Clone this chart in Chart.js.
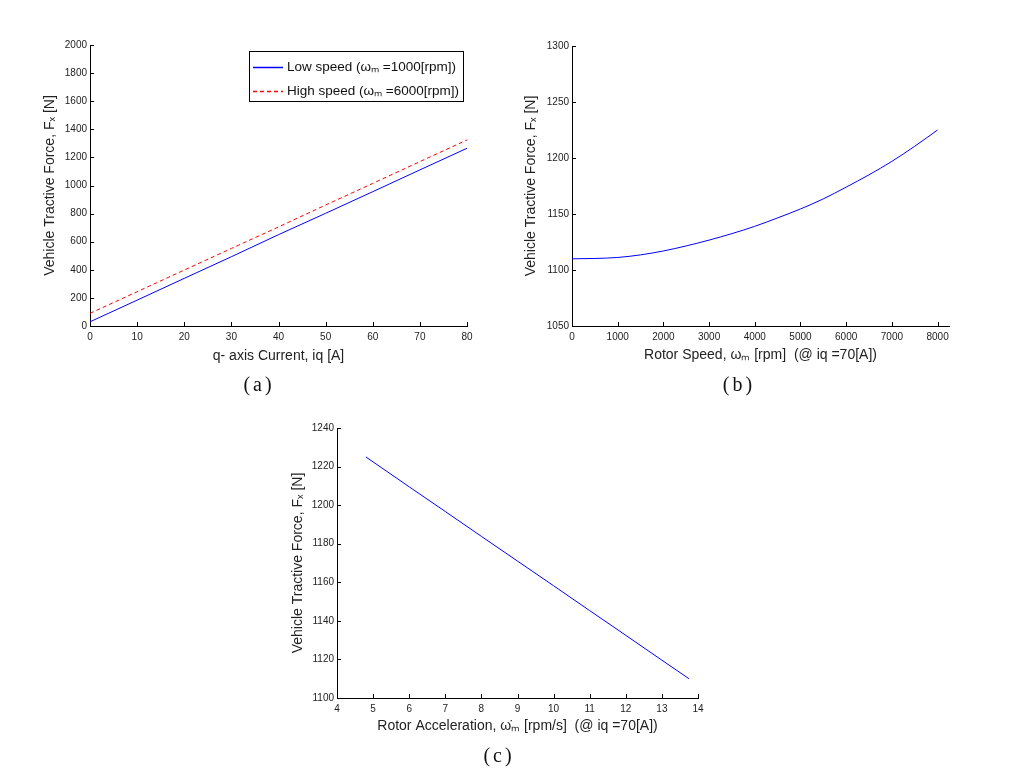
<!DOCTYPE html>
<html>
<head>
<meta charset="utf-8">
<script src="https://cdn.jsdelivr.net/npm/chart.js@4.4.1/dist/chart.umd.min.js"></script>
<style>
  body { margin: 0; background: #fff; }
  #page { position: relative; width: 1010px; height: 779px; overflow: hidden; }
  canvas { position: absolute; }
  .cap { position: absolute; font-family: "Liberation Serif", serif; font-size: 20px; letter-spacing: 3px;
         transform: translate(-50%, -50%); color: #111; }
</style>
</head>
<body>
<div id="page">
  <canvas id="chartA" width="490" height="380" style="left:0;top:0"></canvas>
  <canvas id="chartB" width="520" height="380" style="left:490px;top:0"></canvas>
  <canvas id="chartC" width="500" height="399" style="left:240px;top:380px"></canvas>
  <div class="cap" style="left:259px;top:384px">(a)</div>
  <div class="cap" style="left:739px;top:384px">(b)</div>
  <div class="cap" style="left:499px;top:755px">(c)</div>
</div>
<script>
// (a) force vs q-axis current
const currentA = [0, 10, 20, 30, 40, 50, 60, 70, 80];
const lowSpeedForce = [30, 184, 339, 493, 650, 802, 956, 1111, 1265];
const highSpeedForce = [90, 244, 398, 552, 705, 861, 1015, 1170, 1324];
const ticksAx = [0, 10, 20, 30, 40, 50, 60, 70, 80];
const ticksAy = [0, 200, 400, 600, 800, 1000, 1200, 1400, 1600, 1800, 2000];

// (b) force vs rotor speed
const rotorSpeed = [0, 500, 1000, 1500, 2000, 2500, 3000, 3500, 4000, 4500, 5000, 5500, 6000, 6500, 7000, 7500, 8000];
const speedForce = [1110, 1110.3, 1111.2, 1113.5, 1117, 1121.5, 1126.7, 1132.5, 1139, 1146.5, 1154.5, 1163.5, 1174, 1185, 1197, 1210.5, 1225];
const ticksBx = [0, 1000, 2000, 3000, 4000, 5000, 6000, 7000, 8000];
const ticksBy = [1050, 1100, 1150, 1200, 1250, 1300];

// (c) force vs rotor acceleration
const rotorAccel = [4.8, 6, 7, 8, 9, 10, 11, 12, 13, 13.75];
const accelForce = [1225, 1209.5, 1196.7, 1183.8, 1171, 1158.2, 1145.3, 1132.5, 1119.6, 1110];
const ticksCx = [4, 5, 6, 7, 8, 9, 10, 11, 12, 13, 14];
const ticksCy = [1100, 1120, 1140, 1160, 1180, 1200, 1220, 1240];

const yTitle = 'Vehicle Tractive Force, Fₓ [N]';

Chart.defaults.font.family = '"Liberation Sans", Arial, sans-serif';
Chart.defaults.font.size = 10;
Chart.defaults.color = '#222';

function pts(xs, ys) {
  return xs.map((x, i) => ({x: x, y: ys[i]}));
}

// matlab style tick marks pointing into the plot
const inwardTicks = {
  id: 'inwardTicks',
  afterDraw(chart) {
    const {ctx, chartArea, scales} = chart;
    ctx.save();
    ctx.strokeStyle = '#000';
    ctx.lineWidth = 1;
    ctx.beginPath();
    scales.x.ticks.forEach((t, i) => {
      const px = Math.round(scales.x.getPixelForTick(i)) + 0.5;
      ctx.moveTo(px, chartArea.bottom);
      ctx.lineTo(px, chartArea.bottom - 4);
    });
    scales.y.ticks.forEach((t, i) => {
      const py = Math.round(scales.y.getPixelForTick(i)) + 0.5;
      ctx.moveTo(chartArea.left, py);
      ctx.lineTo(chartArea.left + 4, py);
    });
    ctx.stroke();
    ctx.restore();
  }
};

const boxLegend = {
  id: 'boxLegend',
  afterDraw(chart) {
    const {ctx, chartArea} = chart;
    const w = 214, h = 50;
    const x0 = chartArea.right - 4 - w, y0 = chartArea.top + 6;
    ctx.save();
    ctx.fillStyle = '#fff';
    ctx.fillRect(x0, y0, w, h);
    ctx.strokeStyle = '#000';
    ctx.lineWidth = 1;
    ctx.strokeRect(x0 + 0.5, y0 + 0.5, w, h);
    ctx.font = '13.5px "Liberation Sans", Arial, sans-serif';
    ctx.textBaseline = 'middle';
    chart.data.datasets.forEach((ds, i) => {
      const opts = chart.getDatasetMeta(i).dataset.options;
      const y = y0 + 16 + i * 24 + 0.5;
      ctx.save();
      ctx.lineWidth = 1.5;
      ctx.setLineDash(opts.borderDash || []);
      ctx.strokeStyle = opts.borderColor;
      ctx.beginPath();
      ctx.moveTo(x0 + 4, y);
      ctx.lineTo(x0 + 34, y);
      ctx.stroke();
      ctx.restore();
      ctx.fillStyle = '#111';
      ctx.fillText(ds.label, x0 + 38, y);
    });
    ctx.restore();
  }
};

function scalesFor(o) {
  return {
    x: {
      type: 'linear',
      min: o.xMin, max: o.xMax,
      afterFit: (s) => { s.height = o.xH; },
      afterBuildTicks: (s) => { s.ticks = o.xTicks.map(v => ({value: v})); },
      grid: {display: false, drawTicks: false},
      border: {display: true, color: '#000', width: 1},
      ticks: {padding: 5, maxRotation: 0, autoSkip: false, callback: (v) => String(v)},
      title: {display: true, text: o.xTitle, color: '#222', padding: 0, font: {size: 14}}
    },
    y: {
      min: o.yMin, max: o.yMax,
      afterFit: (s) => { s.width = o.yW; },
      afterBuildTicks: (s) => { s.ticks = o.yTicks.map(v => ({value: v})); },
      grid: {display: false, drawTicks: false},
      border: {display: true, color: '#000', width: 1},
      ticks: {padding: 3, autoSkip: false, callback: (v) => String(v)},
      title: {display: true, text: yTitle, color: '#222', padding: 0, font: {size: 14}}
    }
  };
}

new Chart(document.getElementById('chartA'), {
  type: 'line',
  data: {
    datasets: [
      {
        label: 'Low speed (ωₘ =1000[rpm])',
        data: pts(currentA, lowSpeedForce),
        borderColor: '#0000ff',
        borderWidth: 1,
        pointRadius: 0,
        tension: 0
      },
      {
        label: 'High speed (ωₘ =6000[rpm])',
        data: pts(currentA, highSpeedForce),
        borderColor: '#ff0000',
        borderWidth: 1,
        borderDash: [4, 3],
        pointRadius: 0,
        tension: 0
      }
    ]
  },
  options: {
    responsive: false,
    animation: false,
    layout: {padding: {left: 42, top: 45, right: 23, bottom: 15}},
    scales: scalesFor({xMin: 0, xMax: 80, xTicks: ticksAx, yMin: 0, yMax: 2000, yTicks: ticksAy, xH: 39, yW: 48,
      xTitle: 'q- axis Current, iq [A]'}),
    plugins: {legend: {display: false}, tooltip: {enabled: false}}
  },
  plugins: [inwardTicks, boxLegend]
});

new Chart(document.getElementById('chartB'), {
  type: 'line',
  data: {
    datasets: [{
      label: 'Force',
      data: pts(rotorSpeed, speedForce),
      borderColor: '#0000ff',
      borderWidth: 1,
      pointRadius: 0,
      cubicInterpolationMode: 'monotone'
    }]
  },
  options: {
    responsive: false,
    animation: false,
    layout: {padding: {left: 33, top: 46, right: 61, bottom: 16}},
    scales: scalesFor({xMin: 0, xMax: 8250, xTicks: ticksBx, yMin: 1050, yMax: 1300, yTicks: ticksBy, xH: 38, yW: 49,
      xTitle: 'Rotor Speed, ωₘ [rpm]  (@ iq =70[A])'}),
    plugins: {legend: {display: false}, tooltip: {enabled: false}}
  },
  plugins: [inwardTicks]
});

new Chart(document.getElementById('chartC'), {
  type: 'line',
  data: {
    datasets: [{
      label: 'Force',
      data: pts(rotorAccel, accelForce),
      borderColor: '#0000ff',
      borderWidth: 1,
      pointRadius: 0,
      tension: 0
    }]
  },
  options: {
    responsive: false,
    animation: false,
    layout: {padding: {left: 50, top: 48, right: 42, bottom: 44}},
    scales: scalesFor({xMin: 4, xMax: 14, xTicks: ticksCx, yMin: 1100, yMax: 1240, yTicks: ticksCy, xH: 37, yW: 47,
      xTitle: 'Rotor Acceleration, ω̇ₘ [rpm/s]  (@ iq =70[A])'}),
    plugins: {legend: {display: false}, tooltip: {enabled: false}}
  },
  plugins: [inwardTicks]
});
</script>
</body>
</html>
